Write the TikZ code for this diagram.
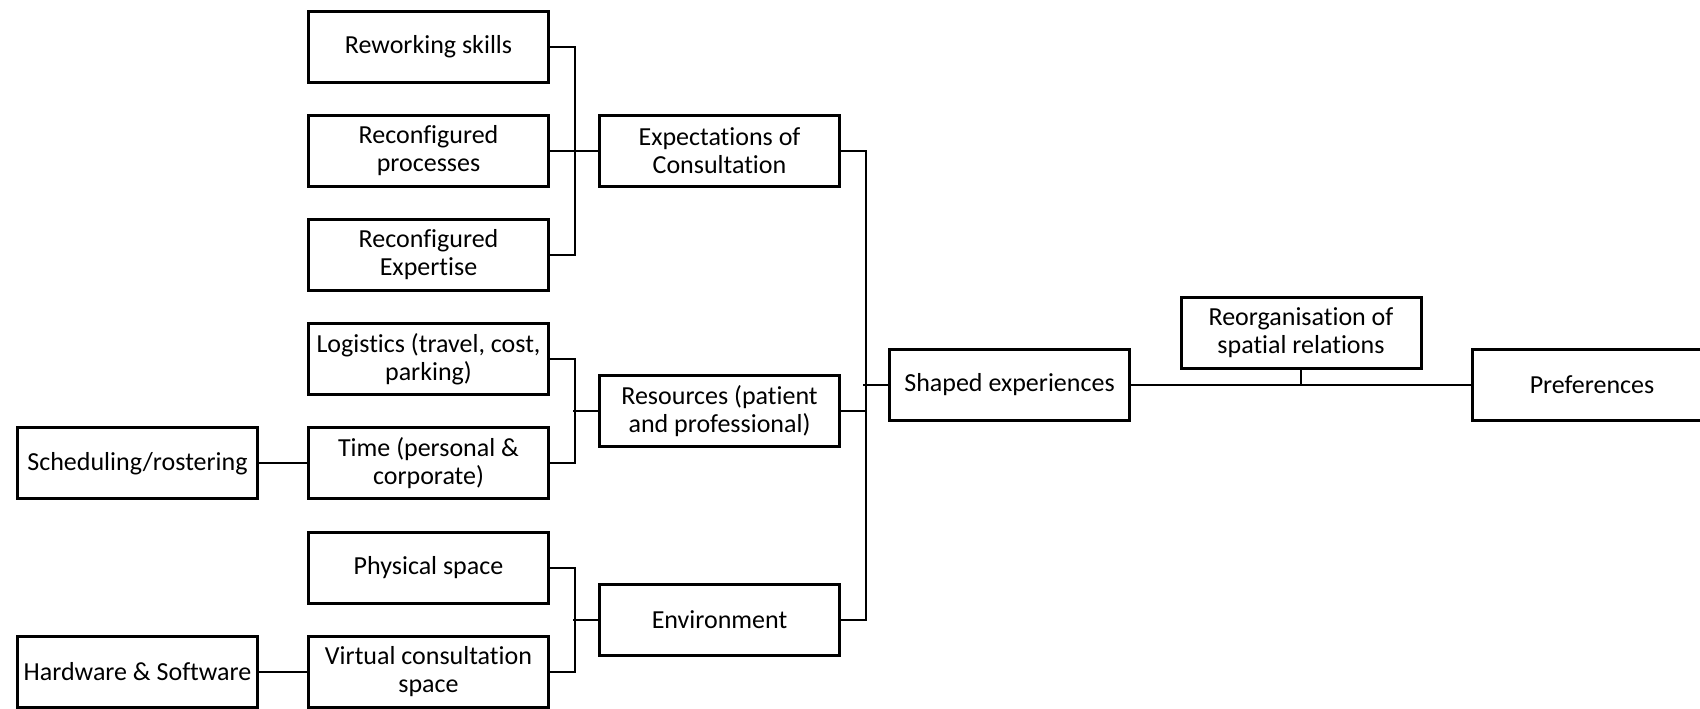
\documentclass[tikz,border=0pt]{standalone}
\usepackage{fontspec}
\setmainfont[RawFeature=-liga]{Carlito}
\usetikzlibrary{positioning}

\begin{document}
\begin{tikzpicture}[node distance=52.1pt, every node/.style={font=\fontsize{13}{14}\selectfont}, box/.style={draw, line width=1.5pt, minimum width=120pt, minimum height=35.5pt, inner sep=2pt, align=center}, link/.style={line width=1pt}]
	\useasboundingbox (0,0) rectangle (850pt,-354pt);
	\clip (0,0) rectangle (850pt,-354pt);
	\node[box] (skills) at (214.25pt,-23.25pt) {Reworking skills};
	\node[box, below of=skills] (processes) {Reconfigured\\processes};
	\node[box, below of=processes] (expertise) {Reconfigured\\Expertise};
	\node[box, below of=expertise] (logistics) {Logistics (travel, cost,\\parking)};
	\node[box, below of=logistics] (time) {Time (personal \&\\corporate)};
	\node[box, below of=time] (physical) {Physical space};
	\node[box, below of=physical] (virtual) {Virtual consultation\\space};
	\node[box, node distance=145.5pt, left of=time] (scheduling) {Scheduling/rostering};
	\node[box, node distance=145.5pt, left of=virtual] (hardware) {Hardware \& Software};
	\node[box, node distance=145.5pt, right of=processes] (expect) {Expectations of\\Consultation};
	\node[box, node distance=130.25pt, below of=expect] (resources) {Resources (patient\\and professional)};
	\node[box, node distance=104.2pt, below of=resources] (environment) {Environment};
	\node[box] (shaped) at (504.75pt,-192.5pt) {Shaped experiences};
	\node[box] (reorg) at (650.5pt,-166.5pt) {Reorganisation of\\spatial relations};
	\node[box, node distance=291.25pt, right of=shaped] (prefs) {Preferences};
	\draw[link] (skills.east) -- ++(12.5pt,0) |- (expertise.east);
	\draw[link] (processes.east) -- (expect.west);
	\draw[link] (logistics.east) -- ++(12.5pt,0) |- (time.east);
	\draw[link] (resources.west) -- ++(-12.5pt,0);
	\draw[link] (physical.east) -- ++(12.5pt,0) |- (virtual.east);
	\draw[link] (environment.west) -- ++(-12.5pt,0);
	\draw[link] (scheduling) -- (time);
	\draw[link] (hardware) -- (virtual);
	\draw[link] (expect.east) -- ++(12.5pt,0) |- (environment.east);
	\draw[link] (resources.east) -- ++(12.5pt,0);
	\draw[link] (shaped.west) -- ++(-12.5pt,0);
	\draw[link] (shaped.east) -- (prefs.west);
	\draw[link] (reorg.south) -- (reorg.south |- shaped.east);
\end{tikzpicture}
\end{document}
